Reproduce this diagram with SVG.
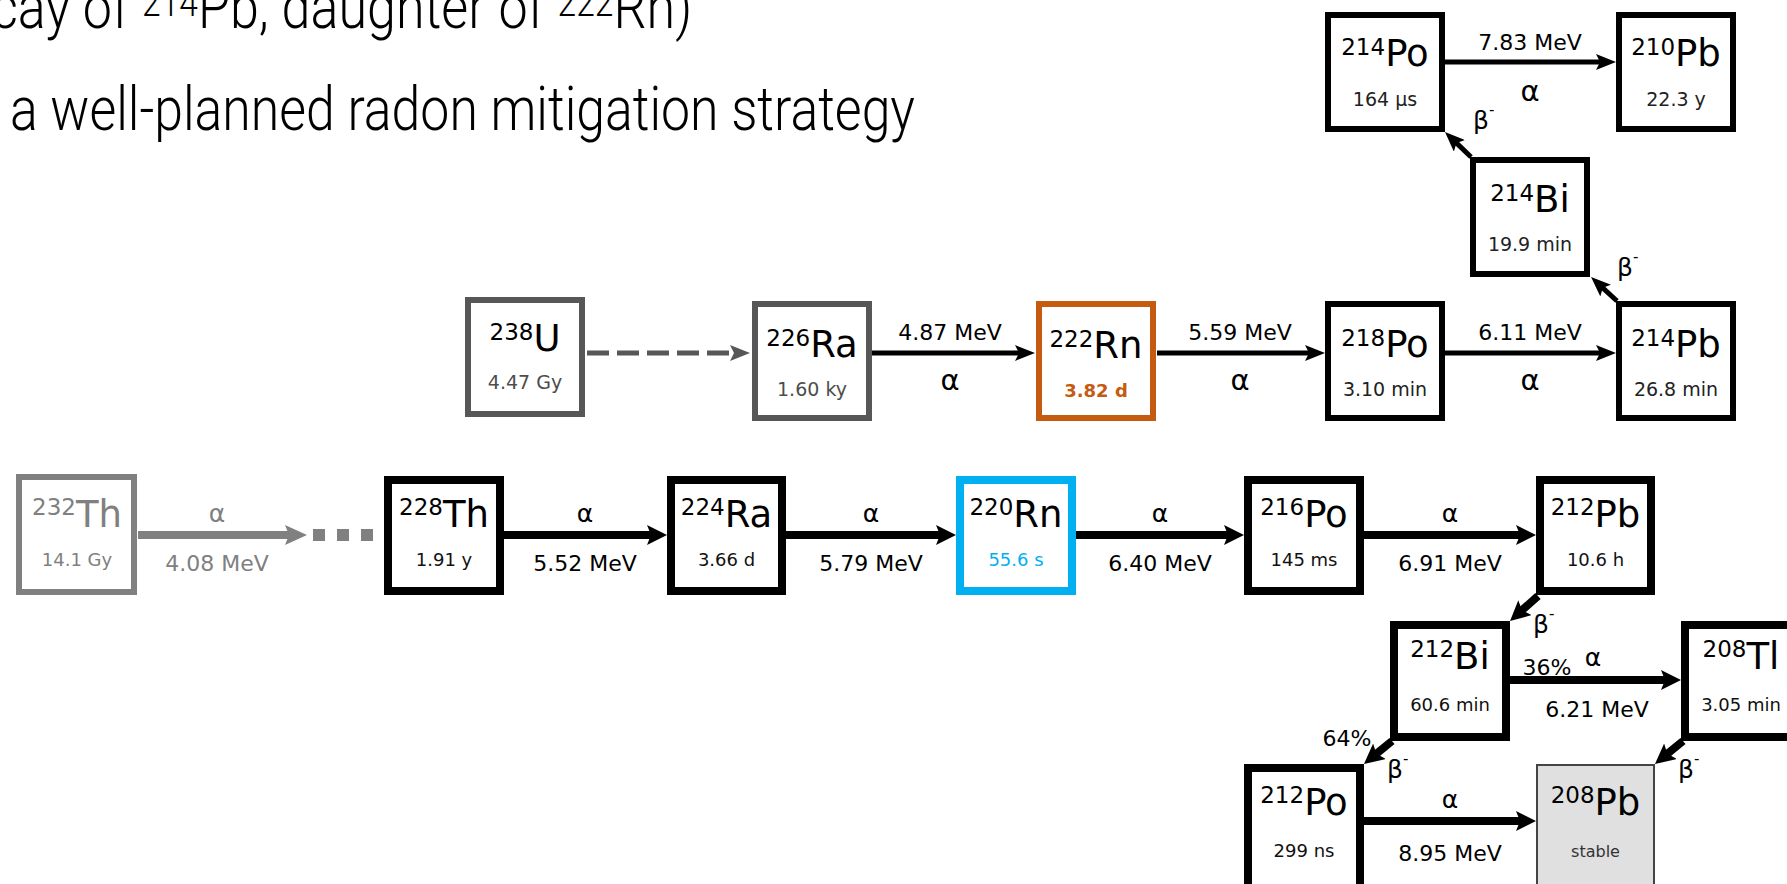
<svg xmlns="http://www.w3.org/2000/svg" width="1787" height="884" viewBox="0 0 1787 884">
<style>
.hd{font-family:Roboto,"Liberation Sans",sans-serif;font-weight:300;font-size:62px;fill:#000}
.box{fill:#fff;stroke:#000;stroke-width:6}
.boxT{fill:#fff;stroke:#000;stroke-width:8}
.t{font-family:"DejaVu Sans",Verdana,sans-serif;text-anchor:middle;fill:#000}
.sym{font-size:37px}
.sup{font-size:23px}
.hl{font-size:19px;fill:#222}
.hlT{font-size:18px;fill:#111}
.en{font-size:22px}
.al{font-size:25px}
.alU{font-size:29px}
.b{font-family:"DejaVu Sans",Verdana,sans-serif;font-size:25px;fill:#000}
.bs{font-size:15px}
.c5{stroke:#000;stroke-width:5;fill:none;marker-end:url(#hB5)}
.c8{stroke:#000;stroke-width:8;fill:none;marker-end:url(#hB8)}
.grayT{fill:#808080}
</style>
<defs>
<marker id="hB5" markerUnits="userSpaceOnUse" markerWidth="20" markerHeight="16" refX="10" refY="8" orient="auto"><path d="M0,0 L20,8 L0,16 L4,8 z" fill="#000"/></marker>
<marker id="hU5" markerUnits="userSpaceOnUse" markerWidth="20" markerHeight="16" refX="10" refY="8" orient="auto"><path d="M0,0 L20,8 L0,16 L4,8 z" fill="#575757"/></marker>
<marker id="hB8" markerUnits="userSpaceOnUse" markerWidth="20" markerHeight="20" refX="10" refY="10" orient="auto"><path d="M0,0 L20,10 L0,20 L4,10 z" fill="#000"/></marker>
<marker id="hT8" markerUnits="userSpaceOnUse" markerWidth="22" markerHeight="20" refX="10" refY="10" orient="auto"><path d="M0,0 L22,10 L0,20 L4,10 z" fill="#808080"/></marker>
</defs>
<rect width="1787" height="884" fill="#fff"/>

<g id="heading">
<g transform="translate(-9,0) scale(0.84,1)"><text class="hd" x="0" y="28">cay of <tspan font-size="40" dy="-12">214</tspan><tspan dy="12">Pb, daughter of </tspan><tspan font-size="40" dy="-12">222</tspan><tspan dy="12">Rn)</tspan></text></g>
<text class="hd" x="10" y="130" textLength="905" lengthAdjust="spacingAndGlyphs">a well-planned radon mitigation strategy</text>
</g>

<g id="connectors">
<!-- U chain -->
<line x1="587" y1="353" x2="740" y2="353" stroke="#575757" stroke-width="5" stroke-dasharray="22 8" marker-end="url(#hU5)"/>
<line class="c5" x1="872" y1="353" x2="1025" y2="353"/>
<line class="c5" x1="1157" y1="353" x2="1315" y2="353"/>
<line class="c5" x1="1445" y1="353" x2="1606" y2="353"/>
<line class="c5" x1="1617" y1="301" x2="1598.4" y2="283.8"/>
<line class="c5" x1="1471" y1="157" x2="1452.2" y2="138.9"/>
<line class="c5" x1="1445" y1="62" x2="1606" y2="62"/>
<!-- Th chain -->
<line x1="138" y1="535" x2="295" y2="535" stroke="#808080" stroke-width="8" marker-end="url(#hT8)"/>
<rect x="313" y="529" width="12" height="12" fill="#808080"/>
<rect x="337" y="529" width="12" height="12" fill="#808080"/>
<rect x="361" y="529" width="12" height="12" fill="#808080"/>
<line class="c8" x1="504" y1="535" x2="657" y2="535"/>
<line class="c8" x1="786" y1="535" x2="946" y2="535"/>
<line class="c8" x1="1076" y1="535" x2="1234" y2="535"/>
<line class="c8" x1="1364" y1="535" x2="1526" y2="535"/>
<line class="c8" x1="1538" y1="596" x2="1517.5" y2="614.3"/>
<line class="c8" x1="1510" y1="680" x2="1671" y2="680"/>
<line class="c8" x1="1392" y1="741" x2="1371.7" y2="757.6"/>
<line class="c8" x1="1683" y1="741" x2="1662.7" y2="757.6"/>
<line class="c8" x1="1364" y1="821" x2="1526" y2="821"/>
</g>

<g id="labels">
<text class="t en" x="950" y="340">4.87 MeV</text>
<text class="t alU" x="950" y="390">α</text>
<text class="t en" x="1240" y="340">5.59 MeV</text>
<text class="t alU" x="1240" y="390">α</text>
<text class="t en" x="1530" y="340">6.11 MeV</text>
<text class="t alU" x="1530" y="390">α</text>
<text class="t en" x="1530" y="50">7.83 MeV</text>
<text class="t alU" x="1530" y="101">α</text>
<text class="b" x="1473" y="129">β<tspan class="bs" dy="-14">-</tspan></text>
<text class="b" x="1617" y="276">β<tspan class="bs" dy="-14">-</tspan></text>

<text class="t al grayT" x="217" y="522">α</text>
<text class="t en grayT" x="217" y="571">4.08 MeV</text>
<text class="t al" x="585" y="522">α</text>
<text class="t en" x="585" y="571">5.52 MeV</text>
<text class="t al" x="871" y="522">α</text>
<text class="t en" x="871" y="571">5.79 MeV</text>
<text class="t al" x="1160" y="522">α</text>
<text class="t en" x="1160" y="571">6.40 MeV</text>
<text class="t al" x="1450" y="522">α</text>
<text class="t en" x="1450" y="571">6.91 MeV</text>
<text class="b" x="1533" y="633">β<tspan class="bs" dy="-14">-</tspan></text>
<text class="t en" x="1547" y="675">36%</text>
<text class="t al" x="1593" y="666">α</text>
<text class="t en" x="1597" y="717">6.21 MeV</text>
<text class="t en" x="1347" y="746">64%</text>
<text class="b" x="1387" y="778">β<tspan class="bs" dy="-14">-</tspan></text>
<text class="b" x="1678" y="778">β<tspan class="bs" dy="-14">-</tspan></text>
<text class="t al" x="1450" y="808">α</text>
<text class="t en" x="1450" y="861">8.95 MeV</text>
</g>

<!-- U / Rn-222 chain nodes -->
<g id="U238">
<rect x="468" y="300" width="114" height="114" fill="#fff" stroke="#575757" stroke-width="6"/>
<text class="t sym" x="525" y="351" fill="#4d4d4d"><tspan class="sup" dy="-11">238</tspan><tspan dy="11">U</tspan></text>
<text class="t hl" x="525" y="389" style="fill:#4d4d4d">4.47 Gy</text>
</g>
<g id="Ra226">
<rect x="755" y="304" width="114" height="114" fill="#fff" stroke="#575757" stroke-width="6"/>
<text class="t sym" x="812" y="357" fill="#4d4d4d"><tspan class="sup" dy="-11">226</tspan><tspan dy="11">Ra</tspan></text>
<text class="t hl" x="812" y="396" style="fill:#4d4d4d">1.60 ky</text>
</g>
<g id="Rn222">
<rect x="1039" y="304" width="114" height="114" fill="#fff" stroke="#c55a11" stroke-width="6"/>
<text class="t sym" x="1096" y="358" fill="#c55a11"><tspan class="sup" dy="-11">222</tspan><tspan dy="11">Rn</tspan></text>
<text class="t hl" x="1096" y="397" style="fill:#c55a11;font-weight:bold;font-size:18px">3.82 d</text>
</g>
<g id="Po218">
<rect class="box" x="1328" y="304" width="114" height="114"/>
<text class="t sym" x="1385" y="357"><tspan class="sup" dy="-11">218</tspan><tspan dy="11">Po</tspan></text>
<text class="t hl" x="1385" y="396">3.10 min</text>
</g>
<g id="Pb214">
<rect class="box" x="1619" y="304" width="114" height="114"/>
<text class="t sym" x="1676" y="357"><tspan class="sup" dy="-11">214</tspan><tspan dy="11">Pb</tspan></text>
<text class="t hl" x="1676" y="396">26.8 min</text>
</g>
<g id="Bi214">
<rect class="box" x="1473" y="160" width="114" height="114"/>
<text class="t sym" x="1530" y="212"><tspan class="sup" dy="-11">214</tspan><tspan dy="11">Bi</tspan></text>
<text class="t hl" x="1530" y="251">19.9 min</text>
</g>
<g id="Po214">
<rect class="box" x="1328" y="15" width="114" height="114"/>
<text class="t sym" x="1385" y="66"><tspan class="sup" dy="-11">214</tspan><tspan dy="11">Po</tspan></text>
<text class="t hl" x="1385" y="106">164 µs</text>
</g>
<g id="Pb210">
<rect class="box" x="1619" y="15" width="114" height="114"/>
<text class="t sym" x="1676" y="66"><tspan class="sup" dy="-11">210</tspan><tspan dy="11">Pb</tspan></text>
<text class="t hl" x="1676" y="106">22.3 y</text>
</g>

<!-- Th chain nodes -->
<g id="Th232">
<rect x="19" y="477" width="115" height="115" fill="#fff" stroke="#808080" stroke-width="6"/>
<text class="t sym grayT" x="77" y="527"><tspan class="sup" dy="-12">232</tspan><tspan dy="12">Th</tspan></text>
<text class="t hlT" x="77" y="566" style="fill:#808080">14.1 Gy</text>
</g>
<g id="Th228">
<rect class="boxT" x="388" y="480" width="112" height="111"/>
<text class="t sym" x="444" y="527"><tspan class="sup" dy="-12">228</tspan><tspan dy="12">Th</tspan></text>
<text class="t hlT" x="444" y="566">1.91 y</text>
</g>
<g id="Ra224">
<rect class="boxT" x="671" y="480" width="111" height="111"/>
<text class="t sym" x="726.5" y="527"><tspan class="sup" dy="-12">224</tspan><tspan dy="12">Ra</tspan></text>
<text class="t hlT" x="726.5" y="566">3.66 d</text>
</g>
<g id="Rn220">
<rect x="960" y="480" width="112" height="111" fill="#fff" stroke="#00b0f0" stroke-width="8"/>
<text class="t sym" x="1016" y="527" fill="#00b0f0"><tspan class="sup" dy="-12">220</tspan><tspan dy="12">Rn</tspan></text>
<text class="t hlT" x="1016" y="566" style="fill:#00b0f0">55.6 s</text>
</g>
<g id="Po216">
<rect class="boxT" x="1248" y="480" width="112" height="111"/>
<text class="t sym" x="1304" y="527"><tspan class="sup" dy="-12">216</tspan><tspan dy="12">Po</tspan></text>
<text class="t hlT" x="1304" y="566">145 ms</text>
</g>
<g id="Pb212">
<rect class="boxT" x="1540" y="480" width="111" height="111"/>
<text class="t sym" x="1595.5" y="527"><tspan class="sup" dy="-12">212</tspan><tspan dy="12">Pb</tspan></text>
<text class="t hlT" x="1595.5" y="566">10.6 h</text>
</g>
<g id="Bi212">
<rect class="boxT" x="1394" y="625" width="112" height="112"/>
<text class="t sym" x="1450" y="669"><tspan class="sup" dy="-12">212</tspan><tspan dy="12">Bi</tspan></text>
<text class="t hlT" x="1450" y="711">60.6 min</text>
</g>
<g id="Tl208">
<rect class="boxT" x="1685" y="625" width="112" height="112"/>
<text class="t sym" x="1741" y="669"><tspan class="sup" dy="-12">208</tspan><tspan dy="12">Tl</tspan></text>
<text class="t hlT" x="1741" y="711">3.05 min</text>
</g>
<g id="Po212">
<rect class="boxT" x="1248" y="768" width="112" height="130"/>
<text class="t sym" x="1304" y="815"><tspan class="sup" dy="-12">212</tspan><tspan dy="12">Po</tspan></text>
<text class="t hlT" x="1304" y="857">299 ns</text>
</g>
<g id="Pb208">
<rect x="1537" y="765" width="117" height="130" fill="#e0e0e0" stroke="#444" stroke-width="2"/>
<text class="t sym" x="1595.5" y="815"><tspan class="sup" dy="-12">208</tspan><tspan dy="12">Pb</tspan></text>
<text class="t hlT" x="1595.5" y="857" style="fill:#333;font-size:16px">stable</text>
</g>
</svg>
